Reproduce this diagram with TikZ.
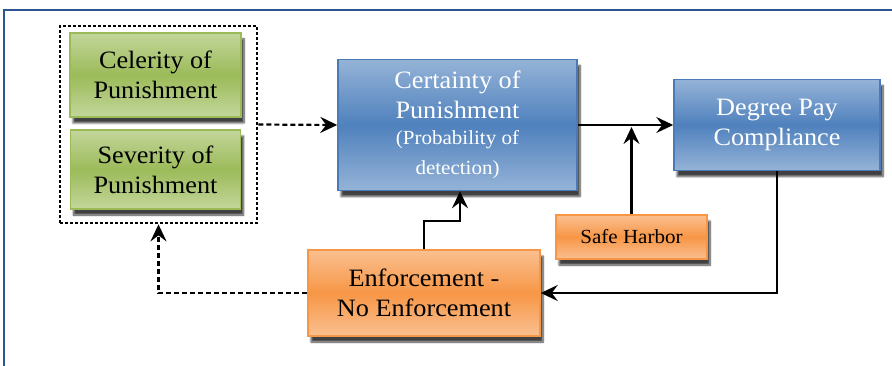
\documentclass[tikz,border=0pt]{standalone}
\usepackage{fontspec}
\setmainfont{Liberation Serif}[FakeStretch=1.05]
\usetikzlibrary{arrows.meta, shadows.blur}

\definecolor{greenlt}{HTML}{C3D69B}
\definecolor{greendk}{HTML}{9BBB59}
\definecolor{bluelt}{HTML}{95B3D7}
\definecolor{bluedk}{HTML}{4F81BD}
\definecolor{orangelt}{HTML}{FAC090}
\definecolor{orangedk}{HTML}{F79646}
\definecolor{framecol}{HTML}{2C5592}

\begin{document}
\begin{tikzpicture} [x = 1pt, y = -1pt,
		box/.style = {draw, line width = 1.5pt, align = center, inner sep = 0pt,
			blur shadow = {shadow xshift = 3pt, shadow yshift = -6pt, shadow blur steps = 8, shadow opacity = 75}},
		greenbox/.style = {box, draw = greendk, top color = greenlt, bottom color = greenlt, middle color = greendk},
		bluebox/.style = {box, draw = bluedk!95!black, top color = bluelt, bottom color = bluelt, middle color = bluedk, text = white},
		orangebox/.style = {box, draw = orangedk, top color = orangelt, bottom color = orangelt, middle color = orangedk},
		big/.style = {font = \fontsize{25}{30}\selectfont},
		small/.style = {font = \fontsize{20}{22}\selectfont},
		arr/.style = {line width = 2.2pt, -{Stealth[length = 17pt, width = 16pt, inset = 6pt]}},
		dashline/.style = {dash pattern = on 5pt off 3pt}]
		\useasboundingbox (0,0) rectangle (892,366);
		\draw [framecol, line width = 2pt] (4,366) -- (4,10) -- (892,10);

		\node [draw, line width = 2.8pt, dash pattern = on 2.6pt off 2.4pt, minimum width = 197pt, minimum height = 197pt] (grp) at (158.5,124.5) {};
		\node [greenbox, big, minimum width = 171pt, minimum height = 84pt] (cel) at (155.5,75) {Celerity of\\Punishment};
		\node [greenbox, big, minimum width = 170pt, minimum height = 79pt] (sev) at (155.5,169.5) {Severity of\\Punishment};
		\node [bluebox, big, minimum width = 239pt, minimum height = 131pt] (cert) at (457.5,125) {Certainty of\\Punishment\\[-4pt]\fontsize{20}{22}\selectfont (Probability of\\\fontsize{20}{22}\selectfont detection)};
		\node [bluebox, big, minimum width = 206pt, minimum height = 91pt] (deg) at (777,125) {Degree Pay\\Compliance};
		\node [orangebox, small, minimum width = 151pt, minimum height = 44pt] (safe) at (631.5,237) {Safe Harbor};
		\node [orangebox, big, minimum width = 232pt, minimum height = 86pt] (enf) at (424,293) {Enforcement -\\No Enforcement};

		\coordinate (bend) at (460,221);
		\draw [arr, dashline] (grp.east) -- (cert.west);
		\draw [arr] (cert.east) -- (deg.west);
		\draw [arr] (safe.north) -- ([yshift = -2pt] safe.north |- cert.east);
		\draw [arr] (deg.south) |- (enf.east);
		\draw [arr] (enf.north) |- (bend) -- (bend |- cert.south);
		\draw [arr, dashline] (enf.west) -| (grp.south);
	\end{tikzpicture}
\end{document}
